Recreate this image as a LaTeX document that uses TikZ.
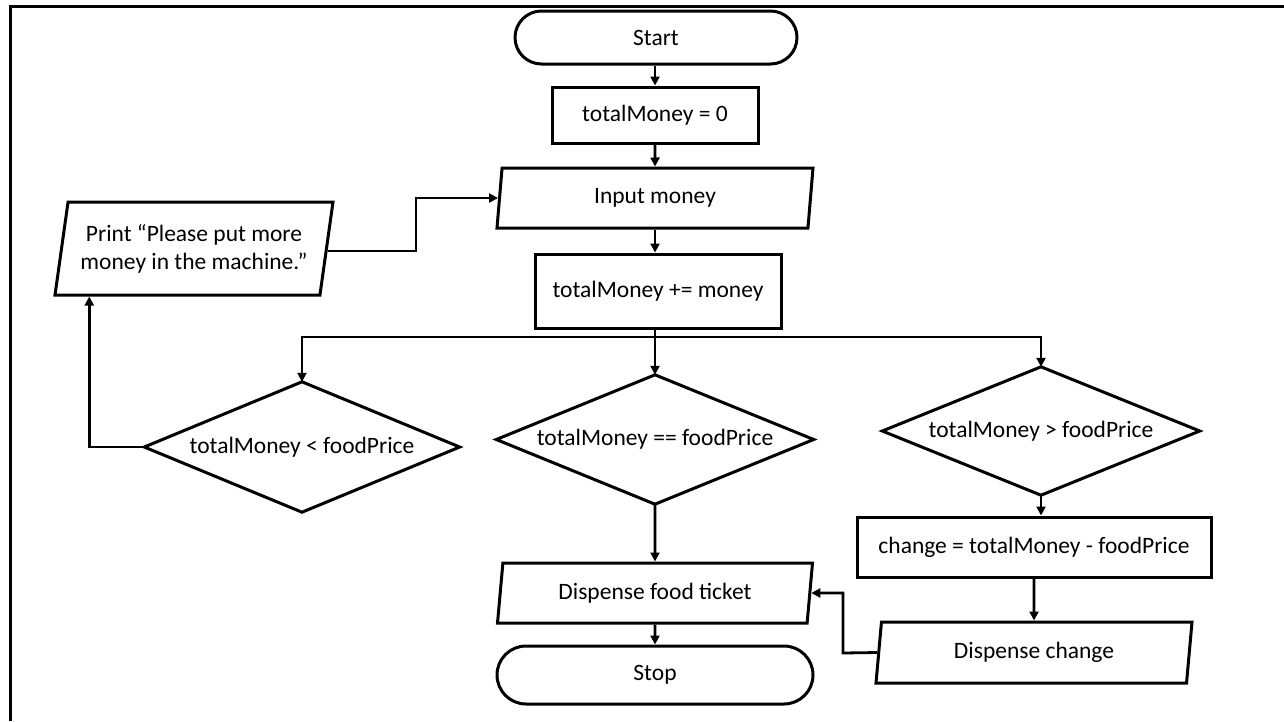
\documentclass[tikz,border=0pt]{standalone}
\usepackage{fontspec}
\setmainfont{Carlito}
\usetikzlibrary{shapes.geometric,arrows.meta}

\tikzset{
  every node/.style={font=\fontsize{23.5}{28}\selectfont, text=black},
  shapeline/.style={draw=black, line width=3pt},
  terminal/.style={shapeline, rectangle, rounded corners=#1, inner sep=0pt},
  procbox/.style={shapeline, rectangle, inner sep=0pt},
  iobox/.style={shapeline, trapezium, trapezium left angle=75, trapezium right angle=105,
    trapezium stretches body=true, inner sep=0pt, align=center},
  decision/.style={rectangle, inner sep=0pt},
  arr/.style={line width=2.8pt, -{Triangle[length=9pt,width=9pt]}},
  plain/.style={line width=2.8pt}
}

\begin{document}
\begin{tikzpicture}[x=1pt,y=-1pt]
\useasboundingbox (0,0) rectangle (1284,721);

% page frame (top and left edges)
\draw[line width=3pt] (10,721) -- (10,6) -- (1284,6);

% main column
\node[terminal=26.5pt, minimum width=282pt, minimum height=53pt] (start) at (656,37.5) {Start};
\node[procbox, minimum width=206pt, minimum height=56pt] (init) at (655,115) {totalMoney = 0};
\node[iobox, minimum width=316pt, minimum height=60pt] (inp) at (655,198) {Input money};
\node[procbox, minimum width=246pt, minimum height=74pt] (acc) at (658,291) {totalMoney += money};

% decisions
\node[decision, minimum width=315pt, minimum height=130pt] (lt) at (302,447) {totalMoney < foodPrice};
\node[decision, minimum width=317pt, minimum height=129pt] (eq) at (655,439.5) {totalMoney == foodPrice};
\node[decision, minimum width=317pt, minimum height=128pt] (gt) at (1041,431) {totalMoney > foodPrice};
\foreach \d in {lt,eq,gt}
  \draw[shapeline, line join=miter] (\d.north) -- (\d.east) -- (\d.south) -- (\d.west) -- cycle;

% branches
\node[iobox, minimum width=278pt, minimum height=93pt] (print) at (194,248.5)
  {Print “Please put more\\money in the machine.”};
\node[procbox, minimum width=354pt, minimum height=60pt] (chg) at (1034,547) {change = totalMoney - foodPrice};
\node[iobox, minimum width=316pt, minimum height=61pt] (dchg) at (1034,652.5) {Dispense change};
\node[iobox, minimum width=315pt, minimum height=60pt] (ticket) at (655,593) {Dispense food ticket};
\node[terminal=29pt, minimum width=316pt, minimum height=58pt] (stop) at (655,675) {Stop};

% connectors
\draw[arr] (start.south -| init.north) -- (init.north);
\draw[arr] (init.south) -- (inp.north);
\draw[arr] (inp.south) -- (inp.south |- acc.north);
\coordinate (split) at (655,337);
\draw[plain] (acc.south -| split) -- (split);
\draw[arr] (split) -| (lt.north);
\draw[arr] (split) -| (gt.north);
\draw[arr] (split) -- (eq.north);

\draw[arr] (lt.west) -| ([xshift=36pt]print.bottom left corner);
\coordinate (loopup) at (416,251);
\draw[arr] (print.east |- loopup) -- (loopup) |- (inp.west);

\draw[arr] (eq.south) -- (ticket.north);
\draw[arr] (ticket.south) -- (stop.north);

\draw[arr] (gt.south) -- (gt.south |- chg.north);
\draw[arr] (chg.south) -- (dchg.north);
\coordinate (back) at (843,653);
\draw[arr] (dchg.west) -- (back) |- (ticket.east);
\end{tikzpicture}
\end{document}
